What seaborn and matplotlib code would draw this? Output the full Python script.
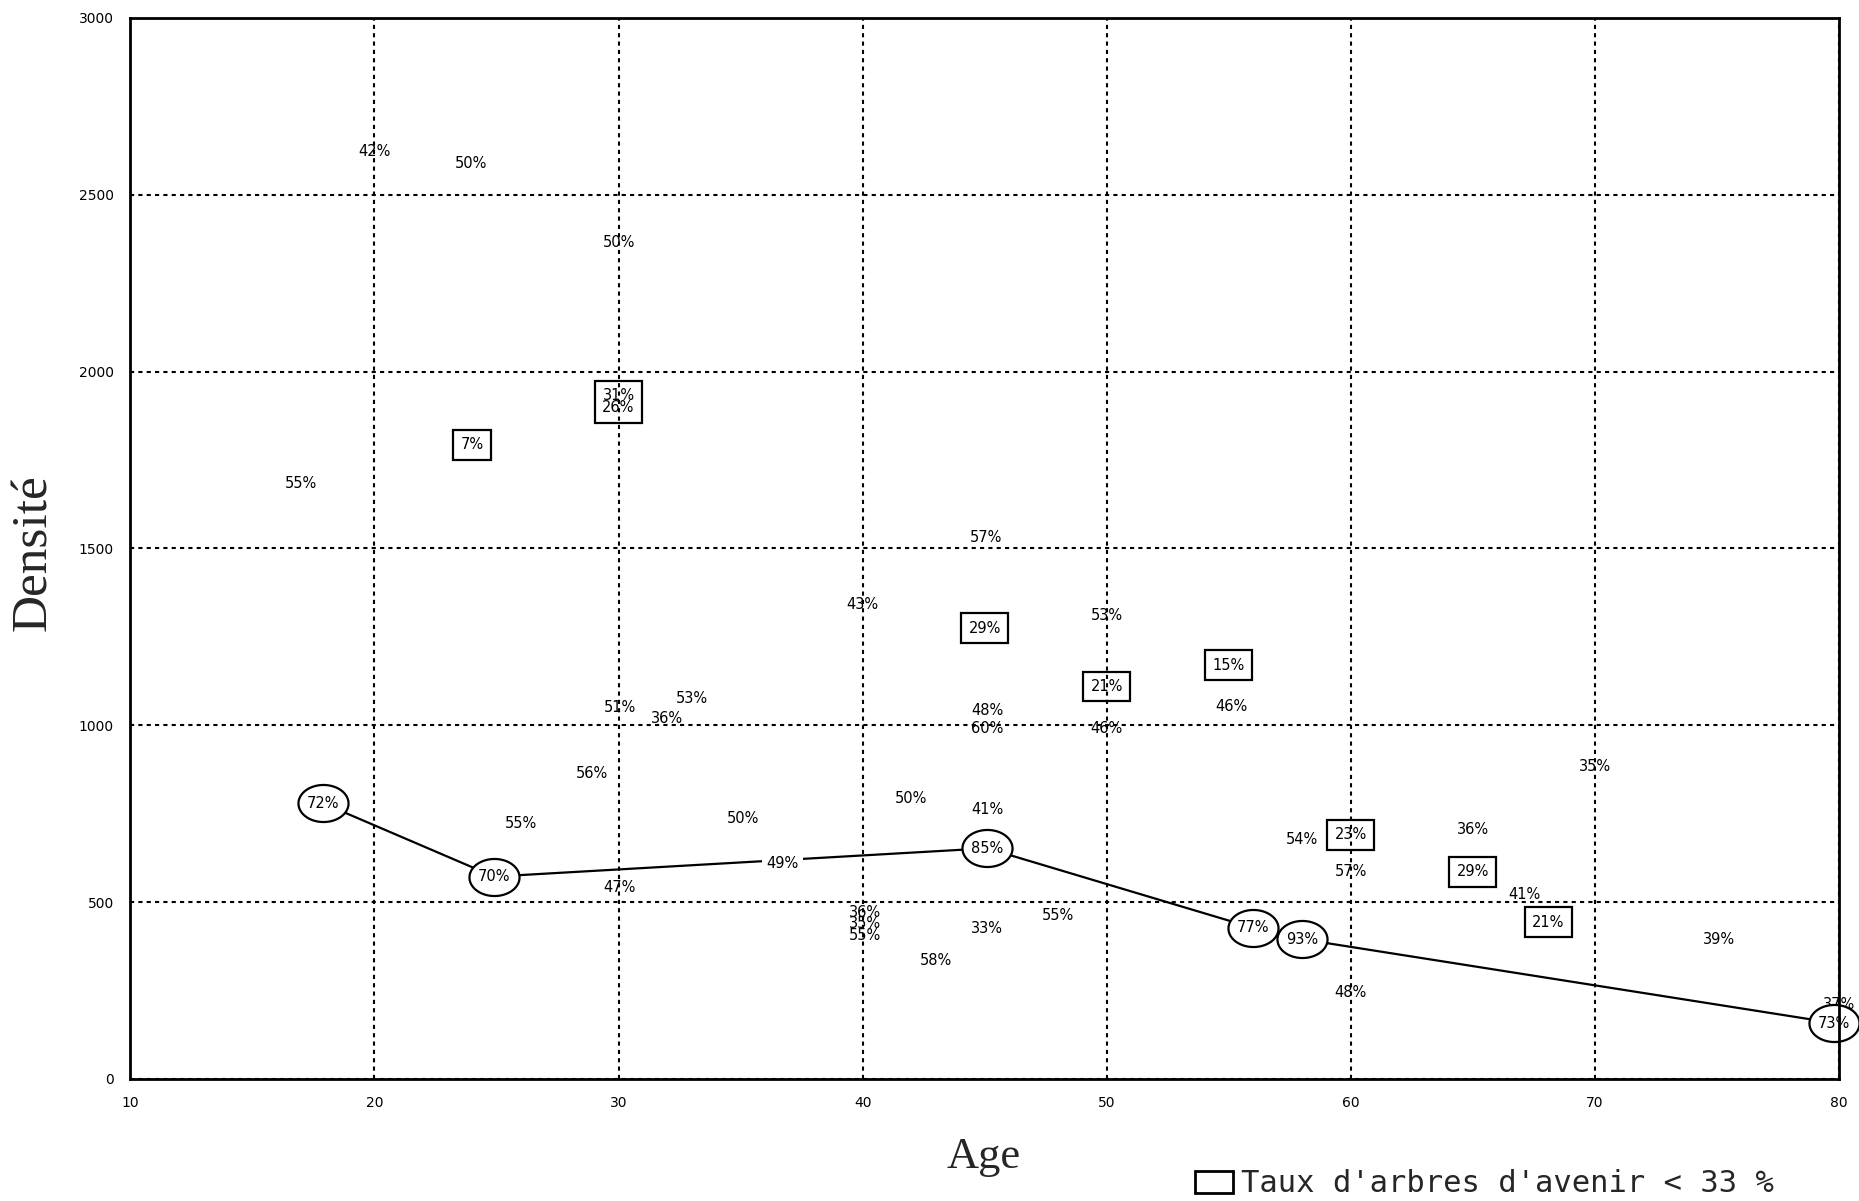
import numpy as np
import pandas as pd
import matplotlib.pyplot as plt
import seaborn as sns
from matplotlib.patches import Patch
from matplotlib.path import Path


# points simples (age, densite, taux d'arbres d'avenir)
age_pts = [20.0, 23.95, 30.0, 17.0, 45.05, 40.0, 50.0, 55.1, 30.05, 33.0, 32.0,
           45.1, 45.1, 50.0, 28.9, 70.0, 26.0, 35.1, 42.0, 45.1, 65.0, 58.0,
           60.0, 36.7, 30.05, 67.1, 48.0, 45.1, 43.0, 75.1,
           60.0, 80.0]
dens_pts = [2621, 2589, 2366, 1683, 1532, 1341, 1311, 1052, 1049, 1076, 1020,
            1041, 992, 992, 863, 882, 721, 737, 794, 763, 705, 678,
            585, 610, 540, 520, 463, 424, 334, 395,
            243, 211]
taux_pts = ['42%', '50%', '50%', '55%', '57%', '43%', '53%', '46%', '51%', '53%', '36%',
            '48%', '60%', '46%', '56%', '35%', '55%', '50%', '50%', '41%', '36%', '54%',
            '57%', '49%', '47%', '41%', '55%', '33%', '58%', '39%',
            '48%', '37%']

# trois valeurs empilees a 40 ans
age_pile = 40.1
dens_pile = [469, 437, 409]
taux_pile = ['36%', '35%', '55%']

# taux d'arbres d'avenir < 33 % (encadres)
age_box = [30.0, 24.0, 45.0, 50.0, 55.0, 60.0, 65.0, 68.1]
dens_box = [1914, 1793, 1274, 1109, 1170, 690, 585, 443]
taux_box = ['31%\n26%', '7%', '29%', '21%', '15%', '23%', '29%', '21%']

# courbe (points cercles)
age_ligne = [17.9, 24.9, 45.1, 56.0, 58.0, 79.8]
dens_ligne = [779, 572, 652, 427, 395, 158]
taux_ligne = ['72%', '70%', '85%', '77%', '93%', '73%']

sns.set_style('white')
plt.rcParams['font.family'] = ['DejaVu Sans']

fig = plt.figure(figsize=(18.59, 12.01), dpi=100)
ax = fig.add_axes([0.07015, 0.10166, 0.91904, 0.88352])

ligne = pd.DataFrame({'Age': age_ligne, 'Densite': dens_ligne})
sns.lineplot(data=ligne, x='Age', y='Densite', sort=False, color='black',
             lw=1.6, ax=ax, zorder=1.5)

# cercles autour des points de la courbe
th = np.linspace(0, 2 * np.pi, 80)
ellipse = Path(np.column_stack([np.cos(th), 0.74 * np.sin(th)]), closed=True)
sns.scatterplot(data=ligne, x='Age', y='Densite', marker=ellipse, s=1300,
                color='white', edgecolor='black', linewidth=1.6, ax=ax,
                zorder=2.2, legend=False, clip_on=False)

lab_kw = dict(ha='center', va='center', fontsize=10.5, color='black')

for x, y, t in zip(age_pts, dens_pts, taux_pts):
    if t == '49%':
        ax.text(x, y, t, zorder=2.1,
                bbox=dict(boxstyle='square,pad=0.3', fc='white', ec='none'), **lab_kw)
    else:
        ax.text(x, y, t, zorder=2.1, **lab_kw)

ax.text(age_pile, np.mean(dens_pile), '\n'.join(taux_pile), zorder=2.1,
        linespacing=0.68, **lab_kw)

for x, y, t in zip(age_box, dens_box, taux_box):
    ax.text(x, y, t, zorder=2.1, linespacing=0.75,
            bbox=dict(boxstyle='square,pad=0.5', fc='none', ec='black', lw=1.6),
            **lab_kw)

for x, y, t in zip(age_ligne, dens_ligne, taux_ligne):
    ax.text(x, y, t, zorder=2.3, **lab_kw)

ax.set_xlim(10, 80)
ax.set_ylim(0, 3000)
ax.set_xticks(range(10, 81, 10))
ax.set_yticks(range(0, 3001, 500))
ax.set_axisbelow(True)
ax.grid(True, color='black', linestyle=(0, (2, 2)), lw=1.5)

for s in ax.spines.values():
    s.set_color('black')
    s.set_linewidth(2)

ax.tick_params(axis='y', direction='out', length=11, width=1.5, pad=1,
               labelsize=10, colors='black')
ax.tick_params(axis='x', direction='out', length=10, width=1.5, pad=2,
               labelsize=10, colors='black')

ax.set_ylabel('Densité', fontfamily='Liberation Serif', fontsize=37, va='center')
ax.yaxis.set_label_coords(-0.0564, 0.4957)
ax.set_xlabel('Age', fontfamily='Liberation Serif', fontsize=32, va='center')
ax.xaxis.set_label_coords(0.4996, -0.0736)

fig.legend(handles=[Patch(facecolor='white', edgecolor='black', lw=2,
                          label="Taux d'arbres d'avenir < 33 %")],
           loc='center left', bbox_to_anchor=(1195 / 1859, 1 - 1184 / 1201),
           frameon=False, borderpad=0, borderaxespad=0, handlelength=1.25,
           handleheight=0.7, handletextpad=0.25,
           prop={'family': 'DejaVu Sans Mono', 'size': 22})

fig.savefig('out.png', dpi=100, facecolor='white')
